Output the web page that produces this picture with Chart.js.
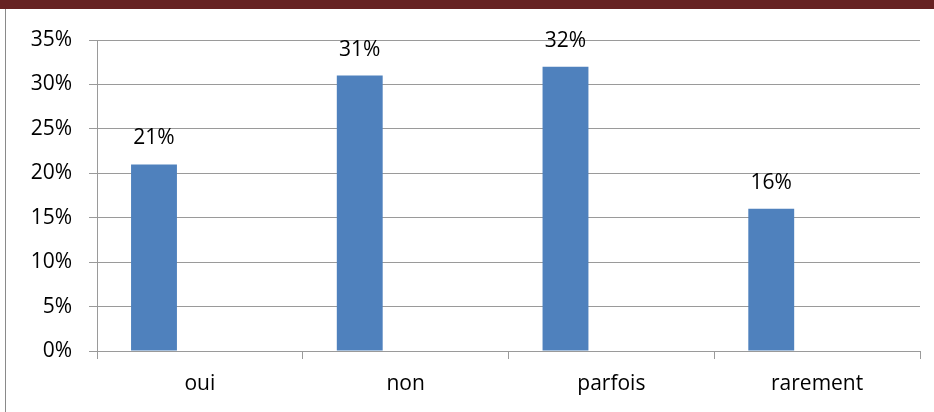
<!DOCTYPE html>
<html>
<head>
<meta charset="utf-8">
<script src="https://cdn.jsdelivr.net/npm/chart.js@4/dist/chart.umd.min.js"></script>
<style>
	html, body { margin: 0; padding: 0; background: #fff; }
	#wrap { position: relative; width: 934px; height: 412px; overflow: hidden; }
	#topBand { position: absolute; left: 0; top: 0; width: 934px; height: 9px; background: #662222; }
	#leftRule { position: absolute; left: 5px; top: 9px; width: 1px; height: 403px; background: #8a8a8a; }
	#chart { position: absolute; left: 0; top: 0; }
</style>
</head>
<body>
<div id="wrap">
	<canvas id="chart" width="934" height="412"></canvas>
	<div id="topBand"></div>
	<div id="leftRule"></div>
</div>
<script>
// answers and their share (%)
const categories = ['oui', 'non', 'parfois', 'rarement'];
const shares = [21, 31, 32, 16];
const yTicks = [0, 5, 10, 15, 20, 25, 30, 35];

const gridGray = '#9a9a9a';
const fontSize = 21;

Chart.defaults.font.family = "'Open Sans', sans-serif";
Chart.defaults.font.size = fontSize;
Chart.defaults.color = '#000';

// value labels above each bar of the first series
const barValueLabels = {
	id: 'barValueLabels',
	afterDatasetsDraw(chart) {
		const ctx = chart.ctx;
		const meta = chart.getDatasetMeta(0);
		ctx.save();
		ctx.font = fontSize + "px 'Open Sans', sans-serif";
		ctx.fillStyle = '#000';
		ctx.textAlign = 'center';
		ctx.textBaseline = 'middle';
		meta.data.forEach((bar, i) => {
			ctx.fillText(shares[i] + '%', bar.x, bar.y - 26);
		});
		ctx.restore();
	}
};

new Chart(document.getElementById('chart'), {
	type: 'bar',
	data: {
		labels: categories,
		datasets: [
			{ data: shares, backgroundColor: '#4f81bd' },
			// two empty series keep the bar on the left of its slot
			{ data: [], backgroundColor: '#c0504d' },
			{ data: [], backgroundColor: '#9bbb59' }
		]
	},
	options: {
		responsive: false,
		animation: false,
		events: [],
		categoryPercentage: 0.669,
		barPercentage: 1,
		layout: { padding: { top: 40, right: 14, left: 0, bottom: 0 } },
		plugins: { legend: { display: false }, tooltip: { enabled: false } },
		scales: {
			x: {
				grid: { offset: true, drawOnChartArea: false, drawTicks: true, tickLength: 8, color: gridGray },
				border: { color: gridGray },
				ticks: { padding: 12 },
				afterFit: s => { s.height = 61; }
			},
			y: {
				min: 0,
				max: 35,
				afterBuildTicks: s => { s.ticks = yTicks.map(v => ({ value: v })); },
				grid: { color: gridGray, tickLength: 8 },
				border: { color: gridGray },
				ticks: { padding: 17, callback: v => v + '%' },
				afterFit: s => { s.width = 97; }
			}
		}
	},
	plugins: [barValueLabels]
});
</script>
</body>
</html>
